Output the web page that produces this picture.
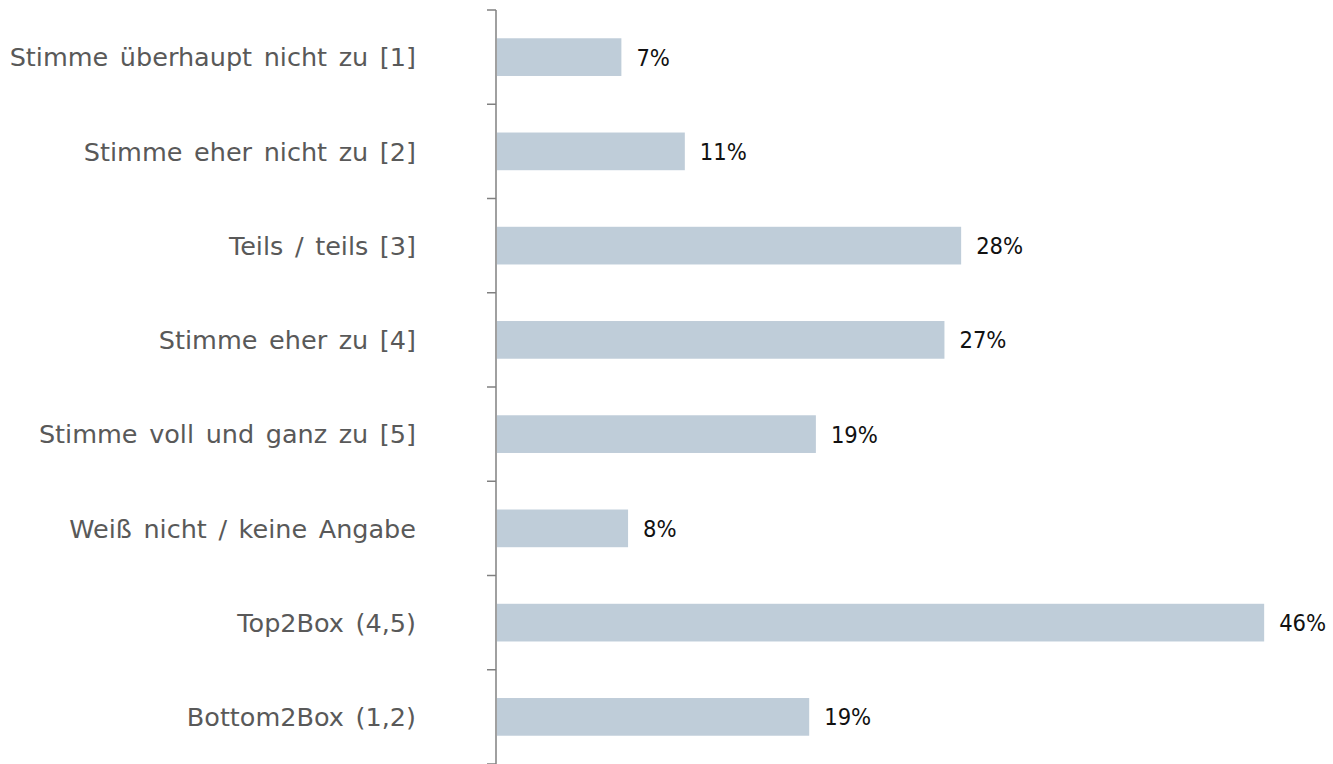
<!DOCTYPE html>
<html>
<head>
<meta charset="utf-8">
<script src="https://cdn.jsdelivr.net/npm/d3@7"></script>
<style>
  body { margin: 0; background: #fff; }
  text { font-family: "DejaVu Sans", sans-serif; }
</style>
</head>
<body>
<div id="chart_root"></div>
<script>
const widthValue = 1333;
const heightValue = 764;
const pad = { left: 496, right: 40, top: 10, bottom: 0 };

// data
const categories = [
  "Stimme überhaupt nicht zu [1]",
  "Stimme eher nicht zu [2]",
  "Teils / teils [3]",
  "Stimme eher zu [4]",
  "Stimme voll und ganz zu [5]",
  "Weiß nicht / keine Angabe",
  "Top2Box (4,5)",
  "Bottom2Box (1,2)",
];
const values = [7.45, 11.25, 27.8, 26.8, 19.1, 7.85, 45.95, 18.7];
const valueLabels = ["7%", "11%", "28%", "27%", "19%", "8%", "46%", "19%"];

const data = categories.map((c, i) => ({ cat: c, value: values[i], label: valueLabels[i] }));

const svg = d3
  .select("#chart_root")
  .append("svg")
  .attr("width", widthValue)
  .attr("height", heightValue);

//Init Scales
const xScale = d3
  .scaleLinear()
  .domain([0, 46])
  .range([pad.left, pad.left + 768]);
const yScale = d3
  .scaleBand()
  .domain(categories)
  .range([pad.top, heightValue - pad.bottom])
  .paddingInner(0.6)
  .paddingOuter(0.3);

// bars
svg
  .append("g")
  .selectAll("rect")
  .data(data)
  .join("rect")
  .attr("x", xScale(0) + 1)
  .attr("y", (d) => yScale(d.cat))
  .attr("width", (d) => xScale(d.value) - xScale(0))
  .attr("height", yScale.bandwidth())
  .attr("fill", "#bfcdd9");

// Y axis: line with ticks between categories
const step = yScale.step();
const boundaries = d3.range(categories.length + 1).map((i) => pad.top + i * step);
const axis = svg.append("g").attr("stroke", "#808080").attr("stroke-width", 1.5);
axis
  .append("line")
  .attr("x1", pad.left)
  .attr("x2", pad.left)
  .attr("y1", pad.top)
  .attr("y2", heightValue);
axis
  .selectAll("line.tick")
  .data(boundaries)
  .join("line")
  .attr("class", "tick")
  .attr("x1", pad.left - 9)
  .attr("x2", pad.left)
  .attr("y1", (d) => d)
  .attr("y2", (d) => d);

// category labels
svg
  .append("g")
  .selectAll("text")
  .data(data)
  .join("text")
  .attr("x", 416)
  .attr("y", (d) => yScale(d.cat) + yScale.bandwidth() / 2)
  .attr("dy", "0.36em")
  .attr("text-anchor", "end")
  .attr("fill", "#595959")
  .style("font-size", "25.5px")
  .style("word-spacing", "3.5px")
  .text((d) => d.cat);

// value labels
svg
  .append("g")
  .selectAll("text")
  .data(data)
  .join("text")
  .attr("x", (d) => xScale(d.value) + 16)
  .attr("y", (d) => yScale(d.cat) + yScale.bandwidth() / 2)
  .attr("dy", "0.36em")
  .attr("fill", "#111")
  .style("font-family", "'DejaVu Sans Condensed', sans-serif")
  .style("font-size", "23.5px")
  .text((d) => d.label);
</script>
</body>
</html>
